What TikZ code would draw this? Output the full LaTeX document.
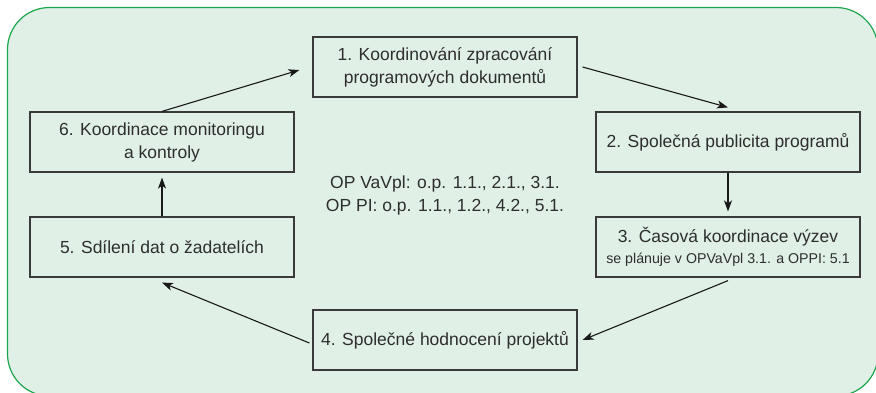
\documentclass[tikz,border=0pt]{standalone}
\usepackage{fontspec}
\setmainfont{Liberation Sans}
\usetikzlibrary{arrows.meta}
\definecolor{panelfill}{HTML}{E0F0E6}
\definecolor{panelline}{HTML}{1BA54C}
\definecolor{boxline}{HTML}{3A3A3A}
\definecolor{ink}{HTML}{2E2E2E}
\tikzset{
  stepbox/.style={draw=boxline, line width=1.2pt, fill=panelfill,
    minimum width=264pt, minimum height=60pt, align=center,
    text=ink, font=\fontsize{17.5}{23}\selectfont, inner sep=2pt},
  flow/.style={draw=black!90, line width=1.1pt,
    -{Stealth[length=11pt,width=8pt,inset=3pt]}},
}
\begin{document}
\begin{tikzpicture}[x=1pt,y=-1pt]
\useasboundingbox (0,0) rectangle (876,392);
% rounded green panel
\draw[panelline, line width=1.2pt, fill=panelfill, rounded corners=42pt]
  (7.5,7.5) rectangle (878,396);

\node[stepbox] (b1) at (445,67) {1. Koordinování zpracování\\programových dokumentů};
\node[stepbox] (b2) at (728,142) {2. Společná publicita programů};
\node[stepbox] (b3) at (728,247) {3. Časová koordinace výzev\\[-2pt]{\fontsize{14.2}{17}\selectfont se plánuje v OPVaVpl 3.1. a OPPI: 5.1}};
\node[stepbox] (b4) at (445,340) {4. Společné hodnocení projektů};
\node[stepbox] (b5) at (162,247) {5. Sdílení dat o žadatelích};
\node[stepbox] (b6) at (162,142) {6. Koordinace monitoringu\\a kontroly};

\node[align=center, text=ink, font=\fontsize{17.5}{23}\selectfont] (mid) at (445,195)
  {OP VaVpl: o.p. 1.1., 2.1., 3.1.\\OP PI: o.p. 1.1., 1.2., 4.2., 5.1.};

\draw[flow] (b6.north) -- ([xshift=-13pt,yshift=-3pt]b1.west);
\draw[flow] ([xshift=5pt]b1.east) -- ([yshift=4pt]b2.north);
\draw[flow] (b2.south) -- ([yshift=5pt]b3.north);
\draw[flow] ([yshift=-3pt]b3.south) -- ([xshift=5pt]b4.east);
\draw[flow] ([xshift=-3pt,yshift=-3pt]b4.west) -- ([yshift=-5pt]b5.south);
\draw[flow] (b5.north) -- ([yshift=-5pt]b6.south);
\end{tikzpicture}
\end{document}
